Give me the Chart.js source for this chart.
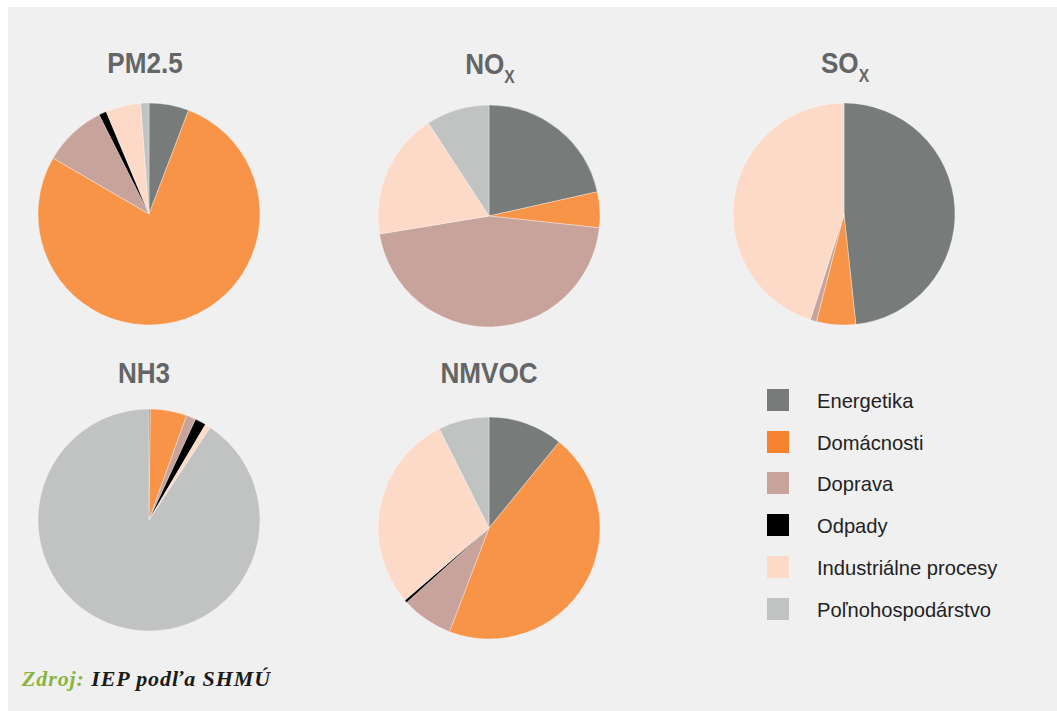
<!DOCTYPE html>
<html>
<head>
<meta charset="utf-8">
<script src="https://cdn.jsdelivr.net/npm/chart.js@4.4.1/dist/chart.umd.min.js"></script>
<style>
  html, body { margin: 0; padding: 0; background: #ffffff; }
  #panel {
    position: absolute; left: 8px; top: 7px; width: 1049px; height: 704px;
    background: #f0f0f0; overflow: hidden;
  }
  .title {
    position: absolute; width: 200px; text-align: center;
    font-family: "Liberation Sans Narrow", "Liberation Sans", Arial, sans-serif;
    font-weight: bold; font-size: 30px; line-height: 30px; color: #646566;
    transform: scaleX(0.87); transform-origin: center;
  }
  .title sub { font-size: 18px; vertical-align: -9px; line-height: 0; }
  .pie { position: absolute; width: 240px; height: 240px; }
  #legend {
    position: absolute; left: 0; top: 0;
    font-family: "Liberation Sans Narrow", "Liberation Sans", Arial, sans-serif;
    font-size: 21px; color: #222222;
  }
  .item { position: absolute; white-space: nowrap; }
  .item span.box { position: absolute; width: 22px; height: 22px; }
  .item span.txt { position: absolute; line-height: 22px; top: 1px; transform: scaleX(0.96); transform-origin: left; }
  #source {
    position: absolute; left: 14px; top: 659px; white-space: nowrap;
    font-family: "Liberation Serif", "Times New Roman", serif;
    font-style: italic; font-weight: 600; font-size: 22px; letter-spacing: 0.9px; color: #1a1a1a;
  }
  #source b { color: #8ab43f; font-weight: 600; }
</style>
</head>
<body>
<div id="panel">
  <div id="legend"></div>
  <div id="source"><b>Zdroj:</b> IEP podľa SHMÚ</div>
</div>
<script>
// kategórie a podiely (%) podľa znečisťujúcej látky
const categories = ["Energetika", "Domácnosti", "Doprava", "Odpady", "Industriálne procesy", "Poľnohospodárstvo"];
const pm25  = [5.8, 77.6, 9.2, 1.1, 5.1, 1.2];
const nox   = [21.5, 5.2, 45.7, 0, 18.4, 9.2];
const sox   = [48.3, 5.7, 0.9, 0, 45.1, 0];
const nh3   = [0.2, 5.3, 1.4, 1.6, 0.8, 90.7];
const nmvoc = [10.9, 44.9, 7.5, 0.4, 28.9, 7.4];

const colors = ["#777c7b", "#f79448", "#c8a39b", "#000000", "#fddac8", "#c1c3c2"];
const swatches = ["#777c7b", "#f5822e", "#c8a39b", "#000000", "#fddac8", "#c1c3c2"];

// polohy grafov v paneli (stred koláča, stred nadpisu)
const pies = [
  { name: "PM2.5", sub: "",  data: pm25,  cx: 141, cy: 207, tx: 137, ty: 41 },
  { name: "NO",    sub: "X", data: nox,   cx: 481, cy: 209, tx: 482, ty: 42 },
  { name: "SO",    sub: "X", data: sox,   cx: 836, cy: 207, tx: 837, ty: 41 },
  { name: "NH3",   sub: "",  data: nh3,   cx: 141, cy: 513, tx: 136, ty: 351 },
  { name: "NMVOC", sub: "",  data: nmvoc, cx: 481, cy: 521, tx: 481, ty: 351 }
];

const panel = document.getElementById("panel");

pies.forEach(function(p) {
  const t = document.createElement("div");
  t.className = "title";
  t.style.left = (p.tx - 100) + "px";
  t.style.top = p.ty + "px";
  t.innerHTML = p.name + (p.sub ? "<sub>" + p.sub + "</sub>" : "");
  panel.appendChild(t);

  const c = document.createElement("canvas");
  c.className = "pie";
  c.width = 240; c.height = 240;
  c.style.left = (p.cx - 120) + "px";
  c.style.top = (p.cy - 120) + "px";
  panel.appendChild(c);

  new Chart(c, {
    type: 'pie',
    data: {
      labels: categories,
      datasets: [{
        label: p.name + p.sub,
        data: p.data,
        backgroundColor: colors,
        borderColor: "rgba(255,255,255,0.55)",
        borderWidth: 0.6,
        radius: 111
      }]
    },
    options: {
      responsive: false,
      animation: false,
      layout: { padding: 0 },
      plugins: {
        legend: { display: false },
        tooltip: { enabled: false }
      }
    }
  });
});

// spoločná legenda
const legend = document.getElementById("legend");
categories.forEach(function(name, i) {
  const row = document.createElement("div");
  row.className = "item";
  row.style.left = "759px";
  row.style.top = (382 + i * 41.7) + "px";
  row.innerHTML = '<span class="box" style="background:' + swatches[i] + '"></span>' +
                  '<span class="txt" style="left:50px">' + name + '</span>';
  legend.appendChild(row);
});
</script>
</body>
</html>
